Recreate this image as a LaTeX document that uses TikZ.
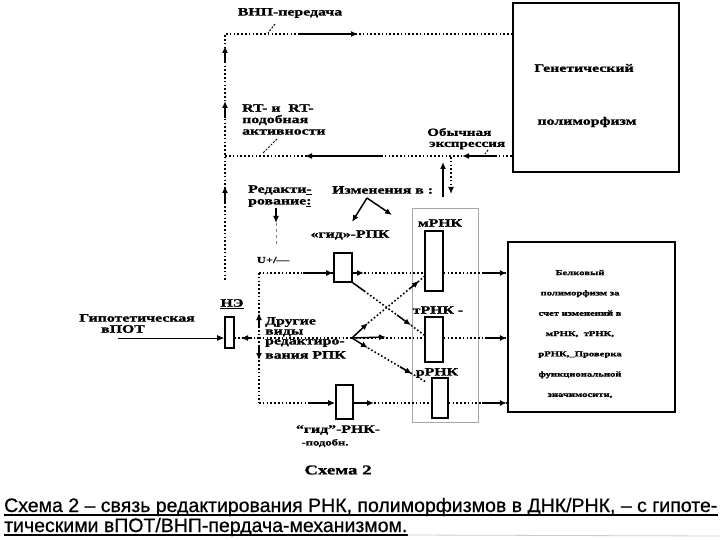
\documentclass[tikz,border=0pt]{standalone}
\usepackage{fontspec}
\setmainfont{Liberation Serif}
\newfontfamily\lab[FakeStretch=1.4,FakeBold=1.2]{Liberation Serif}
\newfontfamily\capf[FakeBold=0.6]{Liberation Sans}
\usetikzlibrary{arrows.meta}
\begin{document}
\begin{tikzpicture}[x=1pt,y=-1pt,
 dl/.style={line width=1.6pt,dash pattern=on 1.6pt off 2.2pt},
 ar/.style={line width=1.5pt,-{Latex[length=7pt,width=6pt]}},
 tip/.style={-{Latex[length=7pt,width=6pt]}},
 bx/.style={draw,line width=1.6pt,inner sep=0pt},
 big/.style={draw,line width=2.3pt,inner sep=0pt},
 lbl/.style={font=\lab\bfseries\fontsize{11.3}{12}\selectfont,inner sep=0pt},
 lsm/.style={font=\lab\bfseries\fontsize{9}{10}\selectfont,inner sep=0pt},
 ptx/.style={font=\lab\bfseries\fontsize{7.6}{20.3}\selectfont,inner sep=0pt,align=center},
 ptr/.style={dash pattern=on 2pt off 1.5pt,line width=1pt},
]
\useasboundingbox (0,0) rectangle (720,540);
\fill[white] (0,0) rectangle (720,540);

% container
\node[draw=gray!70,line width=0.7pt,minimum width=66pt,minimum height=214pt,inner sep=0pt] (cont) at (445,315) {};

% boxes
\node[big,minimum width=166pt,minimum height=169pt] (gen) at (596,87.5) {};
\node[big,minimum width=167pt,minimum height=170pt] (prot) at (591.5,327) {};
\node[bx,minimum width=18pt,minimum height=60pt] (m) at (434,261) {};
\node[bx,minimum width=18pt,minimum height=45pt] (t) at (434,339.5) {};
\node[bx,minimum width=16pt,minimum height=40pt] (r) at (440,398) {};
\node[bx,minimum width=18pt,minimum height=29pt] (g1) at (343,267.5) {};
\node[bx,minimum width=17pt,minimum height=34pt] (g2) at (344.5,402) {};
\node[bx,minimum width=9pt,minimum height=31pt] (ne) at (229.5,332.5) {};

% box texts
\node[lbl] (gen1) at (584,68) {Генетический};
\node[lbl] (gen2) at (587,122) {полиморфизм};
\node[ptx] (ptxt) at (580,334) {Белковый\\полиморфизм за\\счет изменений в\\мРНК,\ \ тРНК,\\рРНК,\_Проверка\\функциональной\\значимосити,};

% labels
\node[lbl] (vnp) at (290,13) {ВНП-передача};
\node[lbl,anchor=west] (rt1) at (242,108) {RT- и\ \ RT-};
\node[lbl,anchor=west] (rt2) at (242,120) {подобная};
\node[lbl,anchor=west] (rt3) at (242,132) {активности};
\node[lbl,anchor=west,font=\lab\bfseries\fontsize{10.8}{12}\selectfont] (ob1) at (427,132) {Обычная};
\node[lbl,anchor=west,font=\lab\bfseries\fontsize{10.8}{12}\selectfont] (ob2) at (429,145.5) {экспрессия};
\node[lbl,anchor=west] (red1) at (248,190) {Редакти\underline{-}};
\node[lbl,anchor=west] (red2) at (248,203) {рование\underline{:}};
\node[lbl,anchor=west] (izm) at (332,190) {Изменения в :};
\node[lbl] (gid1) at (350,235) {«гид»-РПК};
\node[lsm] (u) at (273,260) {U+/—};
\node[lbl] (lm) at (440,223) {мРНК};
\node[lbl] (lt) at (438,310) {тРНК -};
\node[lbl] (lr) at (437,373) {рРНК};
\node[lbl] (lne) at (232,304) {\underline{НЭ}};
\node[lbl] (hyp1) at (137,318) {Гипотетическая};
\node[lbl] (hyp2) at (123,329) {вПОТ};
\node[lbl,anchor=west] (dr1) at (265,322) {Другие};
\node[lbl,anchor=west] (dr2) at (265,333) {виды};
\node[lbl,anchor=west] (dr3) at (265,343) {редактиро-};
\node[lbl,anchor=west] (dr4) at (265,355) {вания РПК};
\node[lbl] (gid2) at (338,430) {“гид”-РНК-};
\node[lsm] (gid3) at (325,443) {-подобн.};
\node[font=\lab\bfseries\fontsize{13.5}{14}\selectfont,inner sep=0pt] (sch) at (338,470) {Схема 2};

% pointers
\draw[ptr] (275,24) -- (268,33);
\draw[ptr] (277,139) -- (263,153);
\draw[ptr] (488,150) -- (485,154);

% left loop
\coordinate (tl) at (225,34);
\coordinate (lb) at (225,280);
\coordinate (ml) at (225,156);
\draw[dl] (lb) -- (tl) -- (tl -| gen.west);
\draw[ar] (300,34) -- (358,34);
\draw[ar] (225,63) -- (225,46);
\draw[ar] (225,118) -- (225,101);
\draw[ar] (225,202) -- (225,186);
\draw[dl] (gen.west |- ml) -- (ml);
\draw[ar] (383,156) -- (305,156);
\draw[ar] (495,156) -- (462,156);

% expression
\draw[ar] (443,197) -- (443,162);
\draw[dl,tip] (451,157) -- (451,194);

% editing / changes
\draw[ar] (276,208) -- (276,223);
\draw[gray,dashed,line width=0.8pt] (276,223) -- (276,247);
\coordinate (apx) at (367,198);
\draw[ar] (apx) -- (352,222);
\draw[ar] (apx) -- (392,215);

% y=273
\coordinate (j1) at (259,273);
\draw[dl] (j1) -- (j1 -| g1.west);
\draw[ar] (303,273) -- (j1 -| g1.west);
\draw[ar] (j1 -| g1.east) -- (364,273);
\draw[dl] (364,273) -- (j1 -| m.west);
\draw[dl] (j1 -| m.east) -- (j1 -| prot.west);
\draw[ar] (482,273) -- (j1 -| prot.west);

% vertical x=259
\coordinate (j2) at (259,403);
\draw[dl] (j1) -- (j2);
\draw[ar] (259,328) -- (259,313);
\draw[ar] (259,346) -- (259,360);

% y=403
\draw[dl] (j2) -- (j2 -| g2.west);
\draw[ar] (310,403) -- (j2 -| g2.west);
\draw[ar] (j2 -| g2.east) -- (374,403);
\draw[dl] (374,403) -- (j2 -| r.west);
\draw[dl] (j2 -| r.east) -- (j2 -| prot.west);
\draw[ar] (482,403) -- (j2 -| prot.west);

% y=338
\coordinate (hs) at (118,338);
\coordinate (j3) at (259,338);
\coordinate (br) at (352,338);
\draw[line width=0.9pt,tip] (hs) -- (hs -| ne.west);
\draw[dl] (j3) -- (j3 -| ne.east);
\draw[ar] (252,338) -- (241,338);
\draw[dl] (j3) -- (br);
\draw[dl] (br) -- (br -| t.west);
\draw[dl] (br -| t.east) -- (br -| prot.west);
\draw[ar] (485,338) -- (br -| prot.west);
\draw[ar] (br) -- (386,337);
\draw[ar] (br) -- (368,323);
\draw[dl] (368,323) -- (425,276);
\draw[ar] (410,288.4) -- (419,281);
\draw[ar] (br) -- (368,348);
\draw[dl] (368,348) -- (426,382);
\draw[ar] (400,366.8) -- (412,373.8);

% cross from g1
\draw[line width=1.5pt] (g1.south east) -- (364,290.8);
\draw[dl] (364,290.8) -- (397,315);
\draw[ar] (397,315) -- (411,325.3);
\draw[dl] (411,325.3) -- (425,335.6);

% caption
\node[font=\capf\fontsize{19.5}{21}\selectfont,anchor=base west,inner sep=0pt] (cap1) at (4,512) {Схема 2 – связь редактирования РНК, полиморфизмов в ДНК/РНК, – с гипоте-};
\node[font=\capf\fontsize{19.5}{21}\selectfont,anchor=base west,inner sep=0pt] (cap2) at (4,532) {тическими вПОТ/ВНП-пердача-механизмом.};
\draw[line width=1.4pt] ([yshift=-3pt]cap1.base west) -- ([yshift=-3pt]cap1.base east);
\draw[line width=1.4pt] ([yshift=-3pt]cap2.base west) -- ([yshift=-3pt]cap2.base east);
\draw[gray!40,line width=0.8pt] ([yshift=-3pt]cap2.base east) -- (720,536);
\end{tikzpicture}
\end{document}
